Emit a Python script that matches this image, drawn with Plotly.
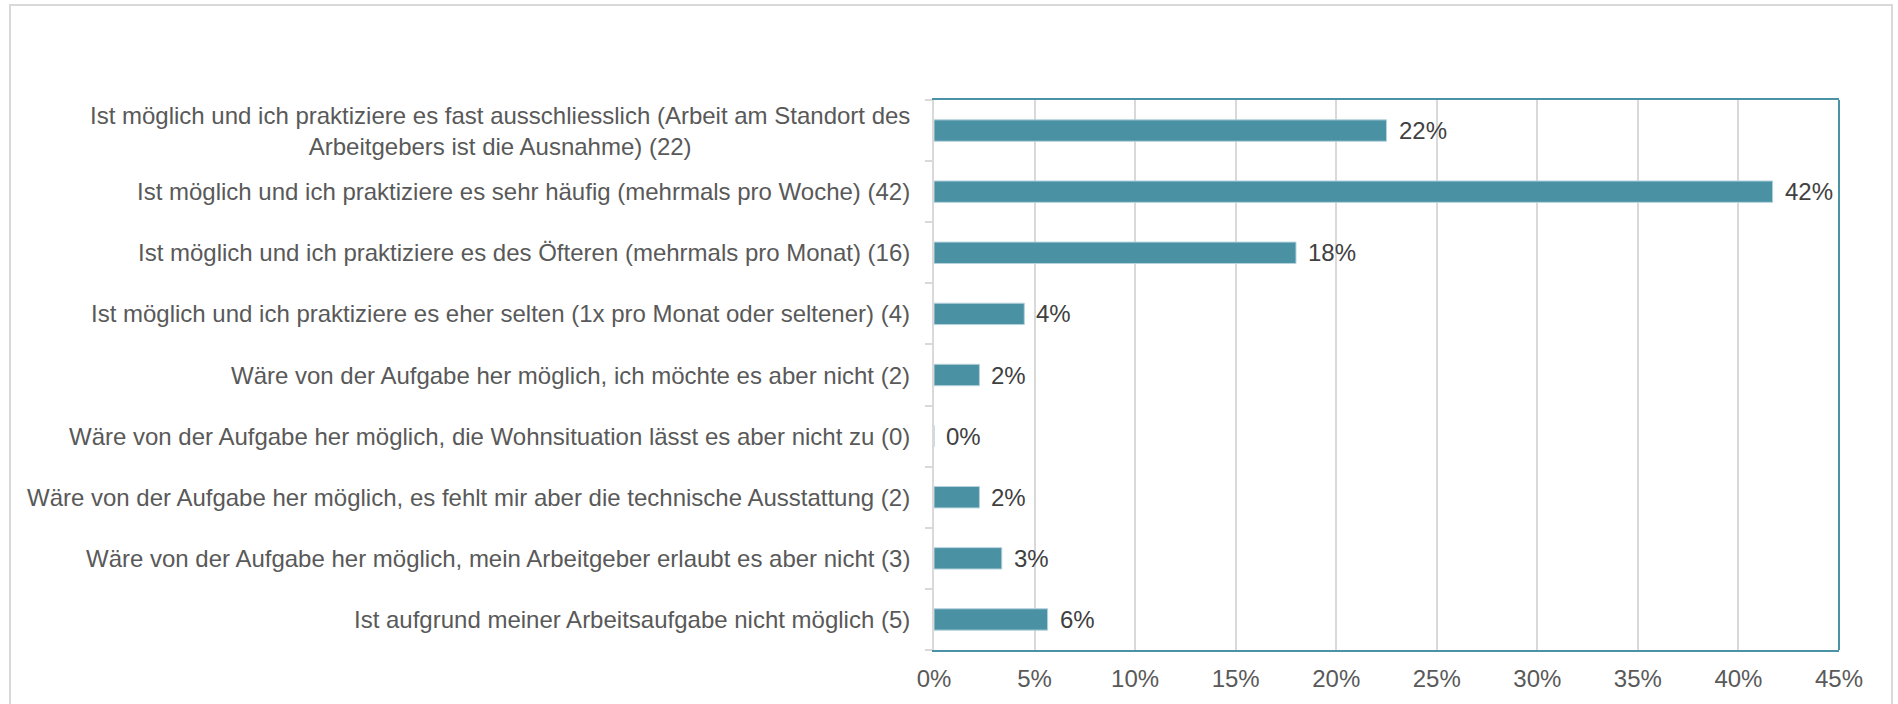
import plotly.graph_objects as go

categories = [
    "Ist möglich und ich praktiziere es fast ausschliesslich (Arbeit am Standort des<br>Arbeitgebers ist die Ausnahme) (22)",
    "Ist möglich und ich praktiziere es sehr häufig (mehrmals pro Woche) (42)",
    "Ist möglich und ich praktiziere es des Öfteren (mehrmals pro Monat) (16)",
    "Ist möglich und ich praktiziere es eher selten (1x pro Monat oder seltener) (4)",
    "Wäre von der Aufgabe her möglich, ich möchte es aber nicht (2)",
    "Wäre von der Aufgabe her möglich, die Wohnsituation lässt es aber nicht zu (0)",
    "Wäre von der Aufgabe her möglich, es fehlt mir aber die technische Ausstattung (2)",
    "Wäre von der Aufgabe her möglich, mein Arbeitgeber erlaubt es aber nicht (3)",
    "Ist aufgrund meiner Arbeitsaufgabe nicht möglich (5)",
]
values = [0.225, 0.417, 0.180, 0.0449, 0.0226, 0.0, 0.0226, 0.0337, 0.0565]
value_labels = ["22%", "42%", "18%", "4%", "2%", "0%", "2%", "3%", "6%"]
x_ticks = [0, 0.05, 0.10, 0.15, 0.20, 0.25, 0.30, 0.35, 0.40, 0.45]
x_tick_labels = ["0%", "5%", "10%", "15%", "20%", "25%", "30%", "35%", "40%", "45%"]

ids = list(range(len(categories)))

W, H = 1898, 704
L, R, T, B = 934, 59, 100, 54
pw, ph = W - L - R, H - T - B

FONT = "Arial, Liberation Sans, sans-serif"
BAR = "#4b91a4"
TEAL = "#4a92a5"
GRID = "#d9d9d9"

fig = go.Figure()
fig.add_trace(go.Bar(
    x=values, y=ids, orientation="h",
    marker=dict(color=BAR, line=dict(color="#b5d3dc", width=1)),
    width=0.35, hoverinfo="skip",
))

annotations = []
for i, (cat, v, lab) in enumerate(zip(categories, values, value_labels)):
    annotations.append(dict(
        x=-22 / pw, xref="paper", y=i, yref="y", text=cat,
        xanchor="right", yanchor="middle", align="center", showarrow=False,
        font=dict(family=FONT, size=24, color="#595959"),
    ))
    annotations.append(dict(
        x=v, xref="x", y=i, yref="y", text=lab,
        xanchor="left", yanchor="middle", xshift=10, showarrow=False,
        font=dict(family=FONT, size=24, color="#404040"),
    ))

shapes = [
    dict(type="line", xref="paper", yref="paper", x0=1, x1=1, y0=0, y1=1,
         line=dict(color=TEAL, width=2)),
    dict(type="rect", xref="paper", yref="paper",
         x0=(10 - L) / pw, x1=(1892 - L) / pw,
         y0=(T + ph - 712) / ph, y1=(T + ph - 5) / ph,
         line=dict(color="#d9d9d9", width=2), fillcolor="rgba(0,0,0,0)", layer="below"),
]

fig.update_layout(
    width=W, height=H,
    margin=dict(l=L, r=R, t=T, b=B, autoexpand=False),
    paper_bgcolor="white", plot_bgcolor="white",
    showlegend=False,
    bargap=0.65,
    annotations=annotations,
    shapes=shapes,
    xaxis=dict(
        range=[0, 0.45], tickvals=x_ticks, ticktext=x_tick_labels,
        showgrid=True, gridcolor=GRID, gridwidth=2,
        showline=True, linecolor=TEAL, linewidth=2, mirror=True,
        ticks="", zeroline=False,
        tickfont=dict(family=FONT, size=24, color="#595959"),
        ticklabelstandoff=6,
    ),
    yaxis=dict(
        range=[len(ids) - 0.5, -0.5],
        tickvals=[i - 0.5 for i in range(len(ids) + 1)],
        ticktext=[""] * (len(ids) + 1),
        showgrid=False, zeroline=False,
        showline=True, linecolor=GRID, linewidth=2,
        ticks="outside", ticklen=7, tickcolor=GRID, tickwidth=2,
    ),
)

fig.write_html(
    "out.html",
    config={"displayModeBar": False},
    post_script="document.body.style.margin='0px';",
)
